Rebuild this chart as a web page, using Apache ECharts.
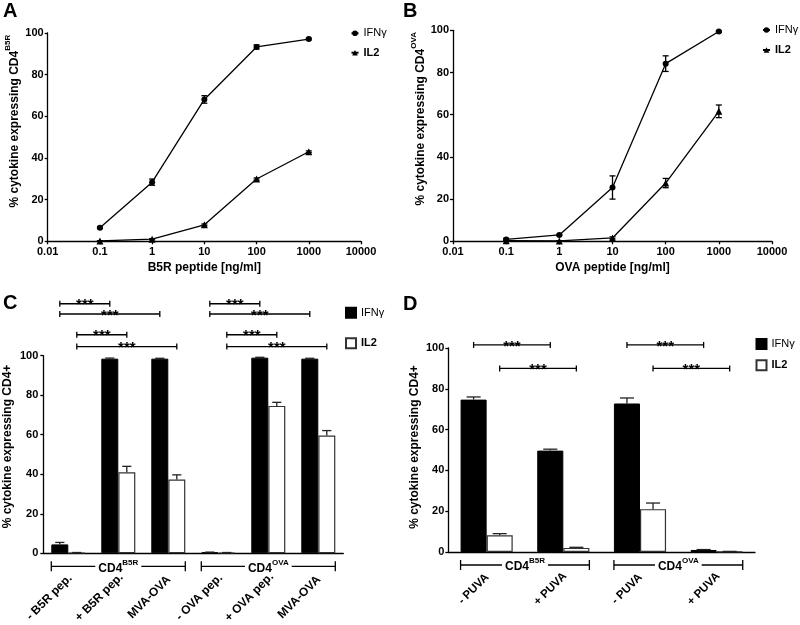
<!DOCTYPE html>
<html><head><meta charset="utf-8">
<script src="https://cdn.jsdelivr.net/npm/echarts@6/dist/echarts.min.js"></script>
<style>html,body{margin:0;padding:0;background:#fff}#c{width:800px;height:625px}</style>
</head><body><div id="c"></div>
<script>
// ---------- DATA ----------
const doses = [0.1, 1, 10, 100, 1000];
const xTickLabels = ['0.01', '0.1', '1', '10', '100', '1000', '10000'];
const yTickLabels = ['0', '20', '40', '60', '80', '100'];

const aIfn = [6.5, 28.4, 68.1, 93.3, 97.1];
const aIfnErr = [0.4, 1.5, 1.8, 1.0, 0.4];
const aIl2 = [0.2, 1.0, 7.9, 29.9, 43.0];
const aIl2Err = [0.1, 0.3, 0.4, 0.5, 0.4];

const bIfn = [0.9, 3.0, 25.5, 84.2, 99.4];
const bIfnErr = [0.5, 0.3, 5.5, 3.7, 0.4];
const bIl2 = [0.3, 0.2, 1.6, 27.6, 61.6];
const bIl2Err = [0.2, 0.1, 0.5, 2.2, 3.0];

const cCats = ['- B5R pep.', '+ B5R pep.', 'MVA-OVA', '- OVA pep.', '+ OVA pep.', 'MVA-OVA'];
const cIfn = [4.5, 98.5, 98.5, 0.5, 99.0, 98.5];
const cIfnErr = [1.0, 0.3, 0.2, 0.1, 0.2, 0.2];
const cIl2 = [0.3, 41.0, 37.3, 0.3, 74.6, 59.6];
const cIl2Err = [0.1, 3.0, 2.4, 0.1, 1.8, 2.5];
// significance brackets: [fromCat, fromSeries(0=IFN,1=IL2), toCat, toSeries, level]
const cSig = [[0,0,1,0,126.3],[0,0,2,0,121.1],[0,1,1,1,110.6],[0,1,2,1,104.6],
              [3,0,4,0,126.3],[3,0,5,0,121.1],[3,1,4,1,110.6],[3,1,5,1,104.6]];
const cGroups = [[0,2],[3,5]];
const cGroupLabels = ['B5R','OVA'];

const dCats = ['- PUVA', '+ PUVA', '- PUVA', '+ PUVA'];
const dIfn = [74.7, 49.7, 72.8, 1.0];
const dIfnErr = [1.3, 0.7, 2.7, 0.2];
const dIl2 = [8.2, 2.0, 21.0, 0.2];
const dIl2Err = [0.8, 0.3, 3.0, 0.1];
const dSig = [[0,0,1,0,101.5],[0,1,1,1,90.0],[2,0,3,0,101.5],[2,1,3,1,90.0]];
const dGroups = [[0,1],[2,3]];
const dGroupLabels = ['B5R','OVA'];

// ---------- CHART ----------
const FONT = '"Liberation Sans", Arial, Helvetica, sans-serif';
const BLK = '#000';
const LW = 1.3;
const chart = echarts.init(document.getElementById('c'), null, {renderer: 'canvas'});

function yName(sup, shift) {
  return {
    name: '{m|% cytokine expressing CD4}' + (sup ? '{s|' + sup + '}' : '{m|+}'),
    nameLocation: 'middle',
    nameTextStyle: {
      fontFamily: FONT, fontWeight: 'bold', fontSize: 12, color: BLK,
      padding: [0, 0, 0, shift * 2],
      rich: {
        m: {fontFamily: FONT, fontWeight: 'bold', fontSize: 12, color: BLK, lineHeight: 17, verticalAlign: 'bottom'},
        s: {fontFamily: FONT, fontWeight: 'bold', fontSize: 8, color: BLK, lineHeight: 10, verticalAlign: 'top'}
      }
    }
  };
}
function valueY(idx, gap, sup, labelMargin, shift) {
  return Object.assign({
    type: 'value', gridIndex: idx, min: 0, max: 100, interval: 20,
    nameGap: gap,
    axisLine: {show: true, lineStyle: {color: BLK, width: LW}},
    axisTick: {show: true, length: 3, lineStyle: {color: BLK, width: LW}},
    axisLabel: {fontFamily: FONT, fontWeight: 'bold', fontSize: 11, color: BLK, margin: labelMargin,
      formatter: v => yTickLabels[Math.round(v / 20)]},
    splitLine: {show: false}
  }, yName(sup, shift));
}
function logX(idx, title) {
  return {
    type: 'log', logBase: 10, gridIndex: idx, min: 0.01, max: 10000, splitNumber: 6,
    name: title, nameLocation: 'middle', nameGap: 20,
    nameTextStyle: {fontFamily: FONT, fontWeight: 'bold', fontSize: 12, color: BLK},
    axisLine: {show: true, lineStyle: {color: BLK, width: LW}},
    axisTick: {show: true, length: 3, lineStyle: {color: BLK, width: LW}},
    minorTick: {show: false},
    axisLabel: {fontFamily: FONT, fontWeight: 'bold', fontSize: 11, color: BLK, margin: 5,
      formatter: v => xTickLabels[Math.round(Math.log10(v)) + 2]},
    splitLine: {show: false}
  };
}
function catX(idx, cats) {
  return {
    type: 'category', gridIndex: idx, data: cats,
    axisLine: {show: true, lineStyle: {color: BLK, width: LW}},
    axisTick: {show: false},
    axisLabel: {show: false},
    splitLine: {show: false}
  };
}

function lineErrRender(params, api) {
  const x = api.value(0);
  const lo = api.coord([x, api.value(1)]);
  const hi = api.coord([x, api.value(2)]);
  const w = 3;
  const st = {stroke: BLK, lineWidth: LW};
  return {type: 'group', children: [
    {type: 'line', shape: {x1: lo[0], y1: lo[1], x2: hi[0], y2: hi[1]}, style: st},
    {type: 'line', shape: {x1: hi[0] - w, y1: hi[1], x2: hi[0] + w, y2: hi[1]}, style: st},
    {type: 'line', shape: {x1: lo[0] - w, y1: lo[1], x2: lo[0] + w, y2: lo[1]}, style: st}
  ]};
}
function errData(vals, errs, xs) {
  return vals.map((v, i) => [xs[i], Math.max(0, v - errs[i]), v + errs[i]]);
}
function barErrRender(side) {
  return function (params, api) {
    const band = api.size([1, 0])[0];
    const bw = band * 0.34;
    const c = api.coord([api.value(0), api.value(1)]);
    const top = api.coord([api.value(0), api.value(2)]);
    const x = c[0] + (side === 0 ? -bw / 2 : bw / 2);
    const w = bw * 0.27;
    const st = {stroke: '#222', lineWidth: LW};
    return {type: 'group', children: [
      {type: 'line', shape: {x1: x, y1: c[1], x2: x, y2: top[1]}, style: st},
      {type: 'line', shape: {x1: x - w, y1: top[1], x2: x + w, y2: top[1]}, style: st}
    ]};
  };
}
function sigRender(params, api) {
  const band = api.size([1, 0])[0];
  const off = s => (s === 0 ? -1 : 1) * 0.17 * band;
  const p1 = api.coord([api.value(0), api.value(4)]);
  const p2 = api.coord([api.value(2), api.value(4)]);
  const x1 = p1[0] + off(api.value(1));
  const x2 = p2[0] + off(api.value(3));
  const y = p1[1];
  const st = {stroke: BLK, lineWidth: LW};
  return {type: 'group', children: [
    {type: 'line', shape: {x1: x1, y1: y, x2: x2, y2: y}, style: st},
    {type: 'line', shape: {x1: x1, y1: y - 3, x2: x1, y2: y + 3}, style: st},
    {type: 'line', shape: {x1: x2, y1: y - 3, x2: x2, y2: y + 3}, style: st},
    {type: 'text', x: (x1 + x2) / 2, y: y + 9,
      style: {text: '***', fill: BLK, font: 'bold 15px ' + FONT, align: 'center', verticalAlign: 'bottom'}}
  ]};
}
function groupRender(labels) {
  return function (params, api) {
    const band = api.size([1, 0])[0];
    const a = api.coord([api.value(0), 0]);
    const b = api.coord([api.value(2), 0]);
    const x1 = a[0] - 0.34 * band, x2 = b[0] + 0.34 * band;
    const y = a[1] + 13;
    const st = {stroke: BLK, lineWidth: LW};
    return {type: 'group', children: [
      {type: 'line', shape: {x1: x1, y1: y, x2: x2, y2: y}, style: st},
      {type: 'line', shape: {x1: x1, y1: y - 5, x2: x1, y2: y + 5}, style: st},
      {type: 'line', shape: {x1: x2, y1: y - 5, x2: x2, y2: y + 5}, style: st},
      {type: 'text', x: (x1 + x2) / 2, y: y, z2: 10,
        style: {text: '{m|CD4}{s|' + labels[params.dataIndex] + '}', align: 'center', verticalAlign: 'middle',
          backgroundColor: '#fff', padding: [0, 3, 0, 3],
          rich: {
            m: {fontFamily: FONT, fontWeight: 'bold', fontSize: 12, fill: BLK, lineHeight: 16, verticalAlign: 'bottom'},
            s: {fontFamily: FONT, fontWeight: 'bold', fontSize: 8, fill: BLK, lineHeight: 10, verticalAlign: 'top'}
          }}}
    ]};
  };
}
function catLabelRender(cats, dx, dy, size) {
  return function (params, api) {
    const p = api.coord([api.value(0), 0]);
    return {type: 'text', x: p[0] + dx, y: p[1] + dy, rotation: Math.PI / 4,
      style: {text: cats[params.dataIndex], font: 'bold ' + size + 'px ' + FONT, fill: BLK,
        align: 'center', verticalAlign: 'middle'}};
  };
}
const lineStyle = {color: BLK, width: LW};
const legendText = {fontFamily: FONT, fontSize: 11, color: BLK, lineHeight: 13};
const strip = n => n.replace(/ \([A-D]\)$/, '');

const option = {
  animation: false,
  backgroundColor: '#fff',
  grid: [
    {left: 47.7, top: 33, width: 313.3, height: 208.3},
    {left: 453, top: 30.3, width: 319, height: 211},
    {left: 43.3, top: 355.7, width: 300, height: 197.6},
    {left: 448.3, top: 348, width: 306.7, height: 204}
  ],
  xAxis: [
    logX(0, 'B5R peptide [ng/ml]'),
    logX(1, 'OVA peptide [ng/ml]'),
    catX(2, cCats),
    catX(3, dCats)
  ],
  yAxis: [
    valueY(0, 27, 'B5R', 4, 16),
    valueY(1, 24, 'OVA', 4, 17),
    valueY(2, 30, null, 5, 8),
    valueY(3, 28, null, 4, 3)
  ],
  legend: [
    {left: 350.5, top: 26.8, padding: 0, orient: 'vertical', itemGap: 6.4, itemWidth: 7, itemHeight: 7, textStyle: legendText, formatter: strip,
      data: [{name: 'IFNγ (A)', textStyle: {fontWeight: 'normal'}}, {name: 'IL2 (A)', textStyle: {fontWeight: 'bold'}}]},
    {left: 762, top: 23.5, padding: 0, orient: 'vertical', itemGap: 7, itemWidth: 7, itemHeight: 7, textStyle: legendText, formatter: strip,
      data: [{name: 'IFNγ (B)', textStyle: {fontWeight: 'normal'}}, {name: 'IL2 (B)', textStyle: {fontWeight: 'bold'}}]},
    {left: 345, top: 306.2, padding: 0, orient: 'vertical', itemGap: 17.6, itemWidth: 10, itemHeight: 10, icon: 'rect', textStyle: legendText, formatter: strip,
      data: [{name: 'IFNγ (C)', textStyle: {fontWeight: 'normal'}}, {name: 'IL2 (C)', textStyle: {fontWeight: 'bold'}}]},
    {left: 755.5, top: 337.5, padding: 0, orient: 'vertical', itemGap: 8.3, itemWidth: 10, itemHeight: 10, icon: 'rect', textStyle: legendText, formatter: strip,
      data: [{name: 'IFNγ (D)', textStyle: {fontWeight: 'normal'}}, {name: 'IL2 (D)', textStyle: {fontWeight: 'bold'}}]}
  ],
  graphic: [
    {type: 'text', left: 3, top: 1, style: {text: 'A', font: 'bold 20px ' + FONT, fill: BLK}},
    {type: 'text', left: 403, top: 1, style: {text: 'B', font: 'bold 20px ' + FONT, fill: BLK}},
    {type: 'text', left: 3, top: 293, style: {text: 'C', font: 'bold 20px ' + FONT, fill: BLK}},
    {type: 'text', left: 403, top: 294, style: {text: 'D', font: 'bold 20px ' + FONT, fill: BLK}}
  ],
  series: [
    // Panel A
    {name: 'IFNγ (A)', type: 'line', xAxisIndex: 0, yAxisIndex: 0, data: doses.map((x, i) => [x, aIfn[i]]),
      symbol: 'circle', symbolSize: 6, lineStyle: lineStyle, itemStyle: {color: BLK}, z: 3},
    {name: 'IL2 (A)', type: 'line', xAxisIndex: 0, yAxisIndex: 0, data: doses.map((x, i) => [x, aIl2[i]]),
      symbol: 'triangle', symbolSize: 7, lineStyle: lineStyle, itemStyle: {color: BLK}, z: 3},
    {type: 'custom', xAxisIndex: 0, yAxisIndex: 0, renderItem: lineErrRender, data: errData(aIfn, aIfnErr, doses), encode: {x: 0, y: [1, 2]}, z: 4},
    {type: 'custom', xAxisIndex: 0, yAxisIndex: 0, renderItem: lineErrRender, data: errData(aIl2, aIl2Err, doses), encode: {x: 0, y: [1, 2]}, z: 4},
    // Panel B
    {name: 'IFNγ (B)', type: 'line', xAxisIndex: 1, yAxisIndex: 1, data: doses.map((x, i) => [x, bIfn[i]]),
      symbol: 'circle', symbolSize: 6, lineStyle: lineStyle, itemStyle: {color: BLK}, z: 3},
    {name: 'IL2 (B)', type: 'line', xAxisIndex: 1, yAxisIndex: 1, data: doses.map((x, i) => [x, bIl2[i]]),
      symbol: 'triangle', symbolSize: 7, lineStyle: lineStyle, itemStyle: {color: BLK}, z: 3},
    {type: 'custom', xAxisIndex: 1, yAxisIndex: 1, renderItem: lineErrRender, data: errData(bIfn, bIfnErr, doses), encode: {x: 0, y: [1, 2]}, z: 4},
    {type: 'custom', xAxisIndex: 1, yAxisIndex: 1, renderItem: lineErrRender, data: errData(bIl2, bIl2Err, doses), encode: {x: 0, y: [1, 2]}, z: 4},
    // Panel C
    {name: 'IFNγ (C)', type: 'bar', xAxisIndex: 2, yAxisIndex: 2, data: cIfn, barGap: '0%', barCategoryGap: '32%',
      itemStyle: {color: BLK, borderColor: BLK, borderWidth: 1}},
    {name: 'IL2 (C)', type: 'bar', xAxisIndex: 2, yAxisIndex: 2, data: cIl2, barGap: '0%', barCategoryGap: '32%',
      itemStyle: {color: '#fff', borderColor: '#333', borderWidth: 1.2}},
    {type: 'custom', xAxisIndex: 2, yAxisIndex: 2, renderItem: barErrRender(0), data: cIfn.map((v, i) => [i, v, v + cIfnErr[i]]), encode: {x: 0, y: [1, 2]}, z: 4},
    {type: 'custom', xAxisIndex: 2, yAxisIndex: 2, renderItem: barErrRender(1), data: cIl2.map((v, i) => [i, v, v + cIl2Err[i]]), encode: {x: 0, y: [1, 2]}, z: 4},
    {type: 'custom', xAxisIndex: 2, yAxisIndex: 2, renderItem: sigRender, data: cSig, encode: {x: 0, y: 4}, clip: false, z: 5},
    {type: 'custom', xAxisIndex: 2, yAxisIndex: 2, renderItem: groupRender(cGroupLabels), data: cGroups.map(g => [g[0], 0, g[1]]), encode: {x: 0, y: 1}, clip: false, z: 5},
    {type: 'custom', xAxisIndex: 2, yAxisIndex: 2, renderItem: catLabelRender(cCats, -19, 44, 12), data: cCats.map((c, i) => [i, 0]), encode: {x: 0, y: 1}, clip: false, z: 5},
    // Panel D
    {name: 'IFNγ (D)', type: 'bar', xAxisIndex: 3, yAxisIndex: 3, data: dIfn, barGap: '0%', barCategoryGap: '32%',
      itemStyle: {color: BLK, borderColor: BLK, borderWidth: 1}},
    {name: 'IL2 (D)', type: 'bar', xAxisIndex: 3, yAxisIndex: 3, data: dIl2, barGap: '0%', barCategoryGap: '32%',
      itemStyle: {color: '#fff', borderColor: '#333', borderWidth: 1.2}},
    {type: 'custom', xAxisIndex: 3, yAxisIndex: 3, renderItem: barErrRender(0), data: dIfn.map((v, i) => [i, v, v + dIfnErr[i]]), encode: {x: 0, y: [1, 2]}, z: 4},
    {type: 'custom', xAxisIndex: 3, yAxisIndex: 3, renderItem: barErrRender(1), data: dIl2.map((v, i) => [i, v, v + dIl2Err[i]]), encode: {x: 0, y: [1, 2]}, z: 4},
    {type: 'custom', xAxisIndex: 3, yAxisIndex: 3, renderItem: sigRender, data: dSig, encode: {x: 0, y: 4}, clip: false, z: 5},
    {type: 'custom', xAxisIndex: 3, yAxisIndex: 3, renderItem: groupRender(dGroupLabels), data: dGroups.map(g => [g[0], 0, g[1]]), encode: {x: 0, y: 1}, clip: false, z: 5},
    {type: 'custom', xAxisIndex: 3, yAxisIndex: 3, renderItem: catLabelRender(dCats, -13, 37, 11.5), data: dCats.map((c, i) => [i, 0]), encode: {x: 0, y: 1}, clip: false, z: 5}
  ]
};
chart.setOption(option);
</script>
</body></html>
